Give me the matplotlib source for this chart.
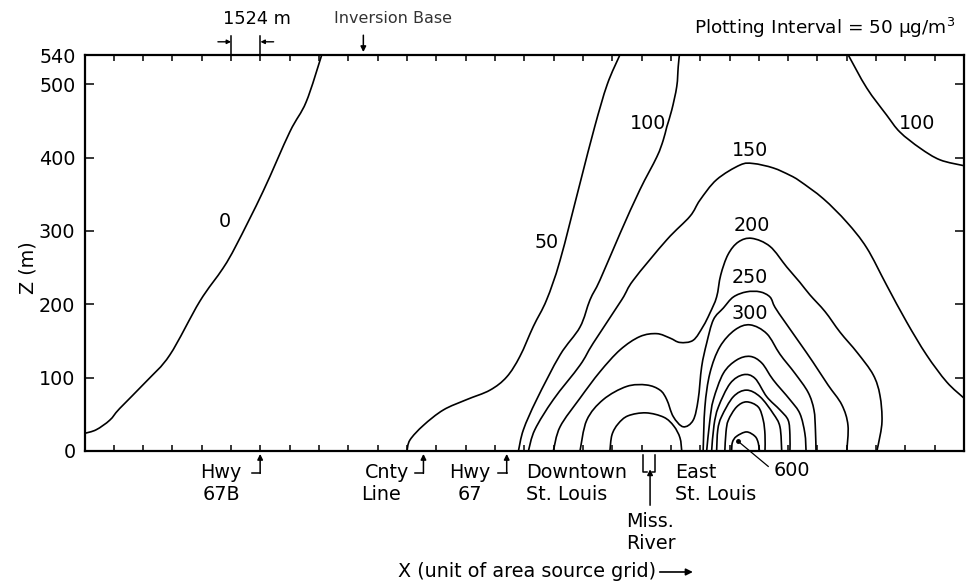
import matplotlib.pyplot as plt
from matplotlib.path import Path
from matplotlib.patches import PathPatch

# Isopleths: (x in area-source grid units, z in m)
iso_0 = [(0, 24), (0.40, 29), (0.86, 42), (1.20, 58), (2.11, 95), (2.91, 131),
         (3.93, 204), (4.72, 249), (5.18, 281), (6.09, 354), (7.00, 435),
         (7.56, 476), (8.09, 540)]
iso_50 = [(11.00, 0), (11.10, 15), (11.56, 35), (12.24, 56), (13.03, 70),
          (13.83, 83), (14.40, 101), (14.85, 129), (15.31, 170), (15.76, 206),
          (16.22, 260), (16.90, 365), (17.40, 442), (17.83, 500), (18.26, 540)]
iso_100_left = [(14.80, 0), (14.97, 29), (15.42, 70), (16.22, 131), (16.90, 169),
                (17.24, 206), (17.58, 233), (18.27, 297), (18.94, 356),
                (19.52, 401), (19.74, 424), (19.86, 442), (20.03, 465),
                (20.20, 497), (20.25, 524), (20.29, 540)]
iso_100_right = [(26.05, 540), (26.68, 495), (27.36, 458), (27.81, 435),
                 (28.50, 413), (29.18, 397), (30.0, 389)]
iso_150 = [(15.14, 0), (15.36, 29), (15.99, 70), (16.90, 117), (17.35, 147),
           (18.32, 206), (18.72, 233), (19.86, 288), (20.65, 320), (20.99, 342),
           (21.56, 370), (22.36, 390), (22.81, 392), (23.49, 386), (24.06, 376),
           (24.40, 368), (25.20, 344), (26.00, 312), (26.68, 277), (27.36, 226),
           (28.04, 176), (28.72, 131), (29.41, 94), (30.0, 72)]
iso_200 = [(15.99, 0), (16.22, 33), (16.90, 72), (17.58, 108), (18.27, 138),
           (18.94, 156), (19.52, 160), (19.97, 154), (20.31, 148), (20.76, 151),
           (21.10, 170), (21.33, 188), (21.56, 210), (21.70, 240), (21.95, 268),
           (22.30, 285), (22.76, 290), (23.38, 279), (23.95, 251), (24.40, 230),
           (24.74, 213), (25.26, 190), (25.77, 162), (26.36, 134), (26.90, 104),
           (27.13, 76), (27.20, 40), (27.07, 8), (27.02, 0)]
iso_250 = [(16.90, 0), (17.13, 42), (17.69, 70), (18.49, 88), (19.17, 90),
           (19.63, 83), (19.86, 70), (20.08, 47), (20.42, 33), (20.76, 42),
           (20.93, 70), (21.05, 115), (21.22, 147), (21.45, 179), (21.79, 195),
           (22.13, 210), (22.58, 217), (23.04, 217), (23.38, 210), (23.55, 196),
           (23.89, 176), (24.40, 147), (24.85, 121), (25.36, 90), (25.83, 63),
           (26.04, 35), (26.00, 0)]
iso_300_downtown = [(17.92, 0), (17.99, 22), (18.20, 37), (18.54, 48), (19.15, 52),
                    (19.76, 46), (20.10, 34), (20.31, 18), (20.37, 0)]
iso_300_east = [(21.10, 0), (21.16, 60), (21.33, 106), (21.67, 142), (22.18, 165),
                (22.70, 172), (23.27, 160), (23.72, 132), (24.23, 106),
                (24.68, 80), (24.88, 56), (24.93, 29), (24.95, 0)]
iso_350 = [(21.22, 0), (21.33, 42), (21.45, 70), (21.79, 106), (22.24, 124),
           (22.70, 129), (23.10, 120), (23.49, 97), (24.06, 70), (24.40, 51),
           (24.57, 24), (24.61, 0)]
iso_400 = [(21.39, 0), (21.47, 35), (21.62, 60), (22.02, 92), (22.47, 104),
           (22.87, 99), (23.27, 74), (23.72, 56), (24.00, 42), (24.06, 22),
           (24.06, 0)]
iso_450 = [(21.56, 0), (21.60, 29), (21.73, 47), (22.13, 74), (22.58, 83),
           (23.04, 74), (23.49, 51), (23.72, 33), (23.78, 0)]
iso_500 = [(21.84, 0), (21.88, 26), (21.96, 42), (22.24, 60), (22.58, 67),
           (22.98, 60), (23.15, 42), (23.21, 22), (23.21, 0)]
iso_550 = [(22.07, 0), (22.10, 12), (22.24, 20), (22.58, 26), (22.87, 20),
           (22.98, 11), (23.02, 0)]

iso_lines = [iso_0, iso_50, iso_100_left, iso_100_right, iso_150, iso_200,
             iso_250, iso_300_downtown, iso_300_east, iso_350, iso_400,
             iso_450, iso_500, iso_550]

# peak point (600) and landmarks along the x axis (grid units)
peak_600 = (22.30, 13)
hwy_67b_x = 5.99
cnty_line_x = 11.56
hwy_67_x = 14.40
river_banks = (19.04, 19.46)
inversion_base_x = 9.51
grid_cell = (5.0, 6.0)

y_ticks = [0, 100, 200, 300, 400, 500, 540]

FS = 13.8


def smooth_path(points):
    # pass a smooth curve through the read points (Catmull-Rom as Bezier pieces)
    pts = [points[0]] + list(points) + [points[-1]]
    verts = [points[0]]
    codes = [Path.MOVETO]
    for i in range(1, len(pts) - 2):
        p0, p1, p2, p3 = pts[i - 1], pts[i], pts[i + 1], pts[i + 2]
        c1 = (p1[0] + (p2[0] - p0[0]) / 6, p1[1] + (p2[1] - p0[1]) / 6)
        c2 = (p2[0] - (p3[0] - p1[0]) / 6, p2[1] - (p3[1] - p1[1]) / 6)
        verts += [c1, c2, p2]
        codes += [Path.CURVE4] * 3
    return Path(verts, codes)


fig = plt.figure(figsize=(9.66, 5.87), dpi=100)
ax = fig.add_axes([0.0875, 0.2317, 0.9105, 0.6746])

for line in iso_lines:
    ax.add_patch(PathPatch(smooth_path(line), facecolor='none', edgecolor='black',
                           lw=1.2, joinstyle='round', capstyle='round'))

ax.set_xlim(0, 30)
ax.set_ylim(0, 540)
ax.set_xticks(range(1, 30))
ax.set_yticks(y_ticks)
ax.set_yticklabels([str(v) for v in y_ticks])
ax.tick_params(axis='x', direction='in', top=True, bottom=True, labelbottom=False,
               length=4.5, width=1.1)
ax.tick_params(axis='y', direction='in', left=True, right=True, length=6.5,
               width=1.1, pad=6.5, labelsize=FS)
for sp in ax.spines.values():
    sp.set_linewidth(1.6)

# contour labels
ax.text(4.78, 313, '0', fontsize=FS, ha='center', va='center')
ax.text(15.76, 284, '50', fontsize=FS, ha='center', va='center')
ax.text(19.23, 447, '100', fontsize=FS, ha='center', va='center')
ax.text(28.38, 447, '100', fontsize=FS, ha='center', va='center')
ax.text(22.70, 410, '150', fontsize=FS, ha='center', va='center')
ax.text(22.76, 307, '200', fontsize=FS, ha='center', va='center')
ax.text(22.70, 236, '250', fontsize=FS, ha='center', va='center')
ax.text(22.70, 188, '300', fontsize=FS, ha='center', va='center')

# 600 peak with leader
ax.plot(*peak_600, marker='o', ms=2.5, color='black')
ax.plot([peak_600[0], 23.32], [peak_600[1], -21], color='black', lw=0.9, clip_on=False)
ax.text(23.49, -26, '600', fontsize=FS, ha='left', va='center')

arrow = dict(arrowstyle='-|>', color='black', lw=1.1, mutation_scale=8,
             shrinkA=0, shrinkB=0)


def hook(x):
    # little "_|" hook with an arrow pointing up to the axis
    ax.plot([x - 0.29, x], [-30, -30], color='black', lw=1.1, clip_on=False)
    ax.annotate('', xy=(x, -4), xytext=(x, -30.5), arrowprops=arrow,
                annotation_clip=False)


hook(hwy_67b_x)
hook(cnty_line_x)
hook(hwy_67_x)

ax.text(4.65, -30, 'Hwy', fontsize=FS, ha='center', va='center')
ax.text(4.68, -60, '67B', fontsize=FS, ha='center', va='center')
ax.text(10.31, -30, 'Cnty', fontsize=FS, ha='center', va='center')
ax.text(10.11, -60, 'Line', fontsize=FS, ha='center', va='center')
ax.text(13.15, -30, 'Hwy', fontsize=FS, ha='center', va='center')
ax.text(13.15, -60, '67', fontsize=FS, ha='center', va='center')
ax.text(15.05, -30, 'Downtown', fontsize=FS, ha='left', va='center')
ax.text(15.05, -60, 'St. Louis', fontsize=FS, ha='left', va='center')
ax.text(20.14, -30, 'East', fontsize=FS, ha='left', va='center')
ax.text(20.14, -60, 'St. Louis', fontsize=FS, ha='left', va='center')

# Mississippi River bracket
rl, rr = river_banks
ax.plot([rl, rl, rl + 0.14], [-6, -29, -29], color='black', lw=1.1, clip_on=False)
ax.plot([rr - 0.1, rr, rr], [-29, -29, -6], color='black', lw=1.1, clip_on=False)
ax.annotate('', xy=(19.29, -25), xytext=(19.29, -74), arrowprops=arrow,
            annotation_clip=False)
ax.text(18.47, -96, 'Miss.', fontsize=FS, ha='left', va='center')
ax.text(18.47, -126, 'River', fontsize=FS, ha='left', va='center')

# axis titles
ax.text(10.69, -165, 'X (unit of area source grid)', fontsize=FS, ha='left', va='center')
ax.annotate('', xy=(20.75, -165), xytext=(19.62, -165),
            arrowprops=dict(arrowstyle='-|>', color='black', lw=1.2,
                            mutation_scale=10, shrinkA=0, shrinkB=0),
            annotation_clip=False)
ax.text(-1.93, 250, 'Z (m)', fontsize=FS, rotation=90, ha='center', va='center')

# top annotations
for gx in grid_cell:
    ax.plot([gx, gx], [541, 566], color='black', lw=1.1, clip_on=False)
ax.annotate('', xy=(grid_cell[0], 558), xytext=(grid_cell[0] - 0.45, 558),
            arrowprops=dict(arrowstyle='-|>', color='black', lw=1.0,
                            mutation_scale=6, shrinkA=0, shrinkB=0),
            annotation_clip=False)
ax.annotate('', xy=(grid_cell[1], 558), xytext=(grid_cell[1] + 0.45, 558),
            arrowprops=dict(arrowstyle='-|>', color='black', lw=1.0,
                            mutation_scale=6, shrinkA=0, shrinkB=0),
            annotation_clip=False)
ax.text(5.87, 589, '1524 m', fontsize=12.8, ha='center', va='center')

ax.annotate('', xy=(inversion_base_x, 544), xytext=(inversion_base_x, 567),
            arrowprops=arrow, annotation_clip=False)
ax.text(10.53, 590, 'Inversion Base', fontsize=11.5, color='#333333',
        ha='center', va='center')

ax.text(29.69, 577, 'Plotting Interval = 50 μg/m$^3$', fontsize=13.3,
        ha='right', va='center')

plt.savefig('out.png', dpi=100)
plt.close()
